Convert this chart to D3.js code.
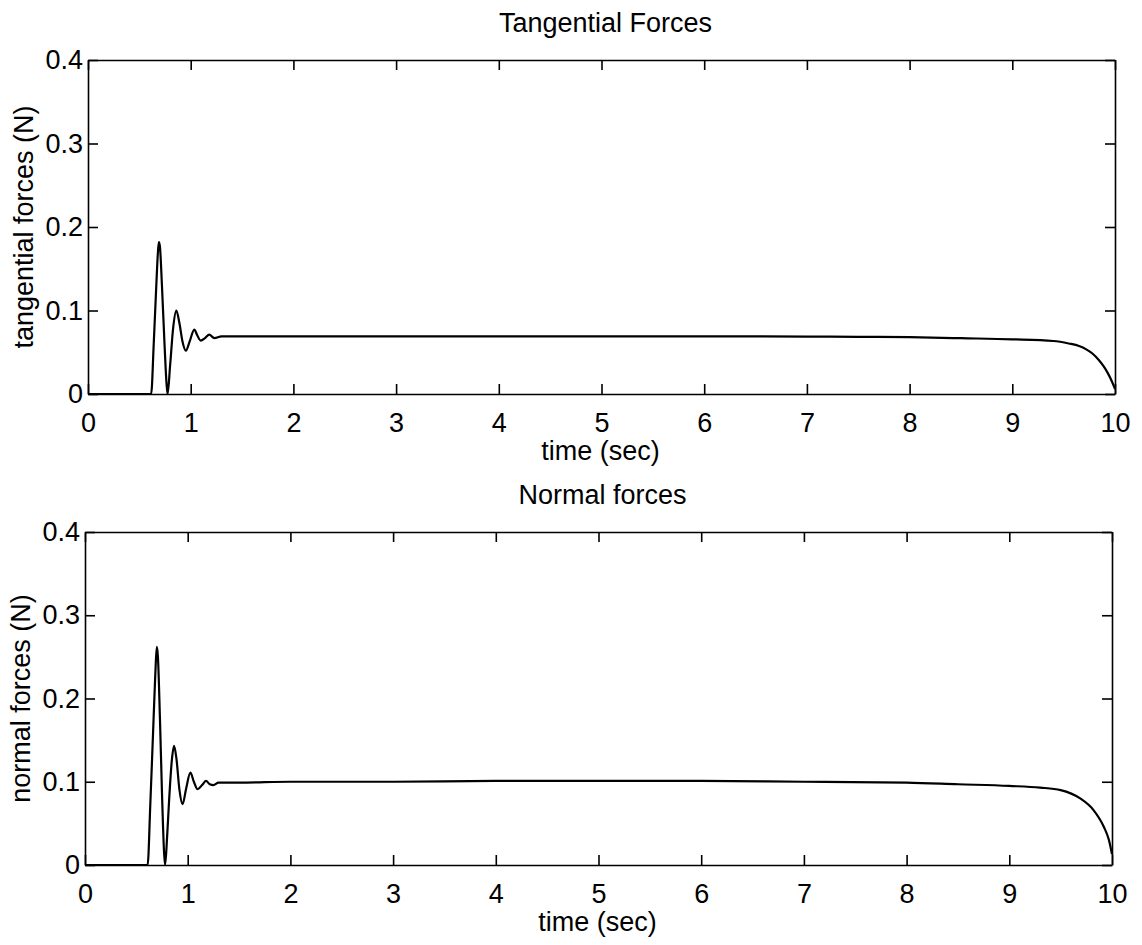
<!DOCTYPE html>
<html>
<head>
<meta charset="utf-8">
<script src="https://cdn.jsdelivr.net/npm/d3@7"></script>
<style>
  body { margin: 0; background: #fff; }
  text { font-family: "Liberation Sans", Arial, sans-serif; fill: #000; }
</style>
</head>
<body>
<script>
const width = 1142;
const height = 945;

// data
const xTicks = [0, 1, 2, 3, 4, 5, 6, 7, 8, 9, 10];
const yTicks = [0, 0.1, 0.2, 0.3, 0.4];

const timeTan = [0, 0.6, 0.615, 0.64, 0.665, 0.68, 0.69, 0.70, 0.72, 0.745, 0.765, 0.775,
  0.80, 0.83, 0.86, 0.89, 0.92, 0.953, 0.99, 1.035, 1.065, 1.097, 1.14, 1.18, 1.23, 1.3, 1.5,
  2, 3, 4, 5, 6, 7, 7.5, 8, 8.5, 9, 9.4, 9.55, 9.65, 9.72, 9.78, 9.84, 9.89, 9.93, 9.97, 10];
const tangential = [0, 0, 0, 0.06, 0.13, 0.168, 0.182, 0.177, 0.13, 0.06, 0.012, 0,
  0.035, 0.08, 0.1, 0.085, 0.063, 0.052, 0.063, 0.077, 0.07, 0.064, 0.067, 0.071, 0.067, 0.069, 0.069,
  0.069, 0.069, 0.069, 0.069, 0.069, 0.0688, 0.0685, 0.068, 0.0668, 0.0655, 0.0635, 0.0605, 0.0575, 0.0535, 0.0485, 0.041, 0.033, 0.025, 0.015, 0.006];

const timeNorm = [0, 0.6, 0.61, 0.635, 0.66, 0.68, 0.69, 0.70, 0.71, 0.73, 0.75, 0.77, 0.78,
  0.80, 0.82, 0.845, 0.867, 0.89, 0.92, 0.95, 0.985, 1.026, 1.06, 1.097, 1.14, 1.178, 1.215, 1.25, 1.3, 1.5,
  2, 3, 4, 5, 6, 7, 8, 8.5, 9, 9.3, 9.5, 9.69, 9.82, 9.92, 9.97, 10];
const normal = [0, 0, 0, 0.07, 0.15, 0.215, 0.245, 0.262, 0.25, 0.175, 0.085, 0.015, 0,
  0.035, 0.08, 0.125, 0.143, 0.128, 0.09, 0.073, 0.092, 0.111, 0.1, 0.091, 0.096, 0.101, 0.097, 0.096, 0.099, 0.099,
  0.1, 0.1, 0.101, 0.101, 0.101, 0.1, 0.099, 0.097, 0.095, 0.093, 0.09, 0.08, 0.066, 0.046, 0.03, 0.013];

const panels = [
  { title: "Tangential Forces", ylabel: "tangential forces (N)", t: timeTan, v: tangential,
    left: 88, right: 1115, top: 60, bottom: 394 },
  { title: "Normal forces", ylabel: "normal forces (N)", t: timeNorm, v: normal,
    left: 85, right: 1112, top: 532, bottom: 865 }
];

const svg = d3.select("body")
  .append("svg")
    .attr("width", width)
    .attr("height", height);

const fontSize = 27;
const tick = 10;

panels.forEach(p => {
  const x = d3.scaleLinear().domain([0, 10]).range([p.left, p.right]);
  const y = d3.scaleLinear().domain([0, 0.4]).range([p.bottom, p.top]);

  const g = svg.append("g");

  // bottom axis with labels
  g.append("g")
    .attr("transform", "translate(0," + p.bottom + ")")
    .call(d3.axisBottom(x).tickValues(xTicks).tickFormat(d3.format("d"))
      .tickSizeInner(-tick).tickSizeOuter(0).tickPadding(19));

  // left axis with labels
  g.append("g")
    .attr("transform", "translate(" + p.left + ",0)")
    .call(d3.axisLeft(y).tickValues(yTicks).tickFormat(d => d === 0 ? "0" : d3.format(".1f")(d))
      .tickSizeInner(-tick).tickSizeOuter(0).tickPadding(5));

  // mirrored top and right ticks
  g.append("g")
    .attr("transform", "translate(0," + p.top + ")")
    .call(d3.axisTop(x).tickValues(xTicks).tickFormat("")
      .tickSizeInner(-tick).tickSizeOuter(0));

  g.append("g")
    .attr("transform", "translate(" + p.right + ",0)")
    .call(d3.axisRight(y).tickValues(yTicks).tickFormat("")
      .tickSizeInner(-tick).tickSizeOuter(0));

  g.selectAll(".domain, .tick line")
    .attr("stroke", "#000")
    .attr("stroke-width", 1.6);

  g.selectAll(".tick text")
    .style("font-size", fontSize + "px")
    .attr("fill", "#000");

  // curve
  const line = d3.line()
    .x((d, i) => x(p.t[i]))
    .y(d => y(d))
    .curve(d3.curveMonotoneX);

  g.append("path")
    .datum(p.v)
    .attr("d", line)
    .attr("fill", "none")
    .attr("stroke", "#000")
    .attr("stroke-width", 2.2)
    .attr("stroke-linejoin", "round");

  // title
  g.append("text")
    .attr("x", (p.left + p.right) / 2 + 4)
    .attr("y", p.top - 28)
    .attr("text-anchor", "middle")
    .style("font-size", fontSize + "px")
    .text(p.title);

  // x label
  g.append("text")
    .attr("x", (p.left + p.right) / 2 - 1)
    .attr("y", p.bottom + 66)
    .attr("text-anchor", "middle")
    .style("font-size", fontSize + "px")
    .text("time (sec)");

  // y label
  g.append("text")
    .attr("transform", "translate(" + (p.left - 55) + "," + ((p.top + p.bottom) / 2) + ") rotate(-90)")
    .attr("text-anchor", "middle")
    .style("font-size", fontSize + "px")
    .text(p.ylabel);
});
</script>
</body>
</html>
